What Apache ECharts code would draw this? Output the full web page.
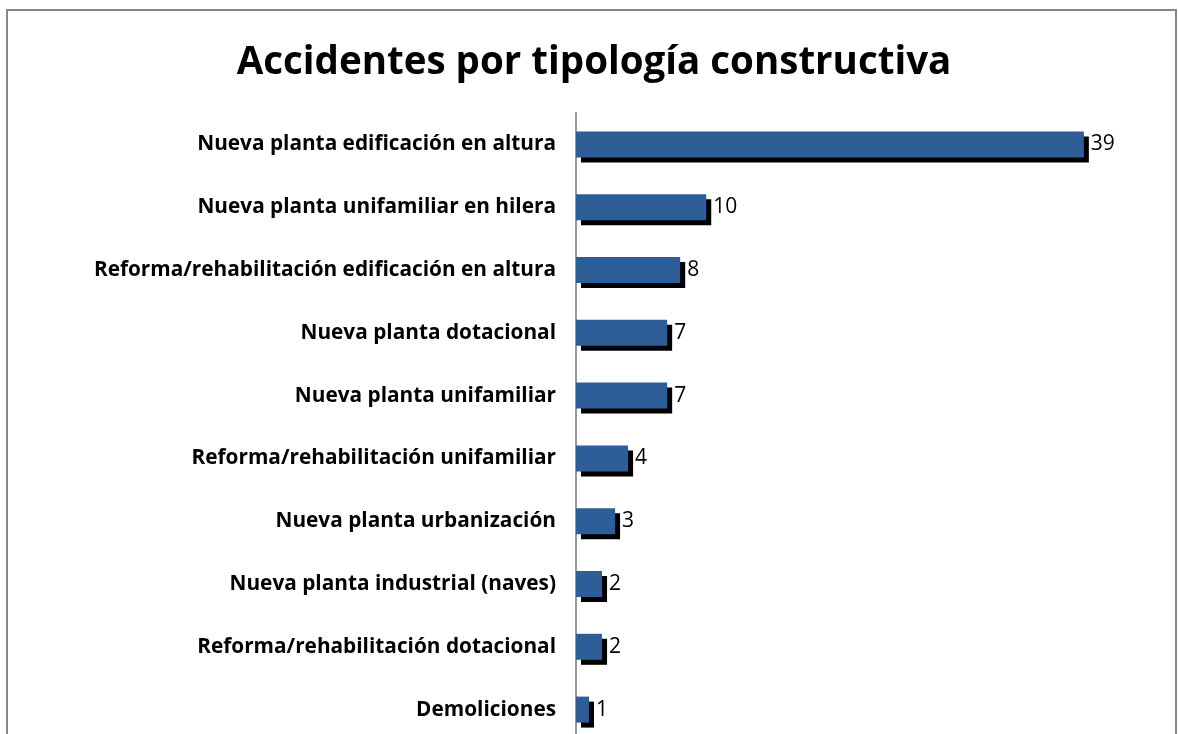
<!DOCTYPE html>
<html>
<head>
<meta charset="utf-8">
<script src="https://cdn.jsdelivr.net/npm/echarts@6/dist/echarts.min.js"></script>
<style>
  html, body { margin: 0; padding: 0; background: #fff; }
  #chart { width: 1178px; height: 734px; }
</style>
</head>
<body>
<div id="chart"></div>
<script>
const categories = [
  'Nueva planta edificación en altura',
  'Nueva planta unifamiliar en hilera',
  'Reforma/rehabilitación edificación en altura',
  'Nueva planta dotacional',
  'Nueva planta unifamiliar',
  'Reforma/rehabilitación unifamiliar',
  'Nueva planta urbanización',
  'Nueva planta industrial (naves)',
  'Reforma/rehabilitación dotacional',
  'Demoliciones'
]
const accidents = [39, 10, 8, 7, 7, 4, 3, 2, 2, 1]

const chart = echarts.init(document.getElementById('chart'))
chart.setOption({
  animation: false,
  title: {
    text: 'Accidentes por tipología constructiva',
    left: 589,
    textAlign: 'center',
    top: 39,
    textStyle: {
      fontFamily: 'Open Sans',
      fontWeight: 'bold',
      fontSize: 38.5,
      color: '#000'
    }
  },
  graphic: [{
    type: 'rect',
    shape: {x: 7, y: 10, width: 1169, height: 800},
    style: {fill: 'none', stroke: '#878787', lineWidth: 2}
  }],
  grid: {
    left: 576,
    top: 113,
    width: 586,
    height: 628,
    outerBoundsMode: 'none',
    containLabel: false
  },
  xAxis: {
    type: 'value',
    min: 0,
    max: 45,
    show: false
  },
  yAxis: {
    type: 'category',
    inverse: true,
    data: categories,
    axisLine: {lineStyle: {color: '#999', width: 2}},
    axisTick: {show: false},
    axisLabel: {
      margin: 20,
      fontFamily: 'Open Sans',
      fontWeight: 'bold',
      fontSize: 20.8,
      color: '#000'
    }
  },
  series: [{
    type: 'bar',
    data: accidents,
    barWidth: 26,
    itemStyle: {
      color: '#2e5e98',
      shadowColor: '#000',
      shadowOffsetX: 5,
      shadowOffsetY: 5,
      shadowBlur: 0
    },
    label: {
      show: true,
      position: 'right',
      distance: 7,
      fontFamily: 'Open Sans',
      fontSize: 21,
      color: '#000'
    }
  }]
})
</script>
</body>
</html>
